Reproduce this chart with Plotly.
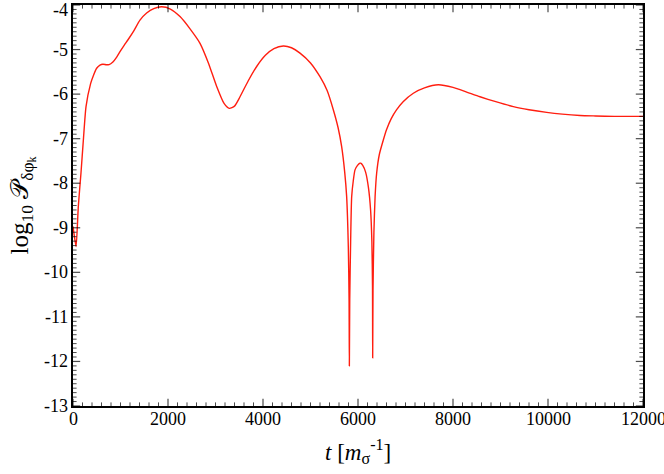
import plotly.graph_objects as go

# values
t = [0, 30, 65, 112, 168, 218, 274, 372, 430, 498, 568, 630, 700, 760, 840,
     920, 1000, 1080, 1158, 1280, 1410, 1550, 1700, 1867, 2050, 2253, 2460,
     2674, 2850, 3025, 3180, 3291, 3400, 3516, 3690, 3867, 4050, 4230, 4428,
     4600, 4779, 5000, 5200, 5350, 5480, 5580, 5656, 5720, 5761, 5796, 5812,
     5818, 5826, 5845, 5867, 5900, 5937, 5990, 6042, 6057, 6100, 6160, 6220,
     6265, 6292, 6305, 6309, 6316, 6335, 6360, 6393, 6450, 6533, 6600, 6700,
     6814, 6950, 7165, 7400, 7691, 8000, 8300, 8568, 8900, 9270, 9600, 9972,
     10300, 10674, 11000, 11400, 11700, 12000]
log_p = [-8.97, -9.2, -9.42, -8.52, -7.77, -7.03, -6.28, -5.76, -5.58, -5.42,
         -5.35, -5.33, -5.34, -5.34, -5.28, -5.17, -5.03, -4.9, -4.78, -4.58,
         -4.34, -4.18, -4.08, -4.04, -4.09, -4.26, -4.53, -4.86, -5.3, -5.83,
         -6.21, -6.32, -6.27, -6.06, -5.7, -5.38, -5.13, -4.98, -4.92, -4.96,
         -5.08, -5.3, -5.61, -5.92, -6.35, -6.75, -7.18, -7.75, -8.3, -9.42,
         -10.6, -12.1, -10.6, -9.3, -8.3, -7.95, -7.7, -7.6, -7.55, -7.55, -7.6,
         -7.75, -8.1, -8.6, -9.3, -10.3, -11.92, -10.4, -9.1, -8.3, -7.77, -7.35,
         -7.03, -6.8, -6.55, -6.35, -6.17, -5.98, -5.86, -5.79, -5.85, -5.96,
         -6.06, -6.17, -6.28, -6.35, -6.41, -6.45, -6.48, -6.49, -6.5, -6.5, -6.5]

x_ticks = [0, 2000, 4000, 6000, 8000, 10000, 12000]
y_ticks = [-13, -12, -11, -10, -9, -8, -7, -6, -5, -4]

# minor tick positions
x_minor = [v for v in range(0, 12001, 200) if v % 2000 != 0]
y_minor = [round(-13 + i / 10, 1) for i in range(91) if i % 10 != 0]

x_range = [0, 12000]
y_range = [-13, -4]

serif = 'Liberation Serif'
W, H = 664, 474
L, R, T, B = 73, 21, 5, 68
pw, ph = W - L - R, H - T - B
# one pixel in data units
px_x = (x_range[1] - x_range[0]) / pw
px_y = (y_range[1] - y_range[0]) / ph

# curve points (no marker) followed by tick marks drawn as line markers
xs, ys = list(t), list(log_p)
symbols = ['circle'] * len(t)
sizes = [0] * len(t)
widths = [0] * len(t)
colors = ['#ff1e10'] * len(t)


def add_tick(x, y, sym, ln):
    xs.extend([None, x])
    ys.extend([None, y])
    symbols.extend(['circle', sym])
    sizes.extend([0, ln])
    widths.extend([0, 1.2 if ln == 6 else 1])
    colors.extend(['#ff1e10', 'black'])


for vals, ln in ((x_ticks, 6), (x_minor, 3)):
    for v in vals:
        add_tick(v, y_range[0] + ln / 2 * px_y, 'line-ns', ln)
        add_tick(v, y_range[1] - ln / 2 * px_y, 'line-ns', ln)
for vals, ln in ((y_ticks, 6), (y_minor, 3)):
    for v in vals:
        add_tick(x_range[0] + ln / 2 * px_x, v, 'line-ew', ln)
        add_tick(x_range[1] - ln / 2 * px_x, v, 'line-ew', ln)

fig = go.Figure()
fig.add_trace(go.Scatter(x=xs, y=ys, mode='lines+markers', connectgaps=False,
                         line=dict(color='#ff1e10', width=1.4, shape='spline', smoothing=0.6),
                         marker=dict(symbol=symbols, size=sizes, color=colors,
                                     line=dict(width=widths, color=colors)),
                         showlegend=False, hoverinfo='skip'))
# invisible copy so the top/right frame axes get drawn
fig.add_trace(go.Scatter(x=t, y=log_p, mode='lines', xaxis='x2', yaxis='y2',
                         line=dict(width=0), opacity=0, showlegend=False, hoverinfo='skip'))

tick_font = dict(family=serif, size=18, color='black')
annotations = []
for v in x_ticks:
    annotations.append(dict(text=str(v), xref='x', x=v, yref='paper', y=0, xanchor='center',
                            yanchor='top', yshift=-1, showarrow=False, font=tick_font))
for v in y_ticks:
    annotations.append(dict(text=str(v), xref='paper', x=0, yref='y', y=v, xanchor='right',
                            yanchor='middle', xshift=-3, yshift=-5 if v == -4 else 0,
                            showarrow=False, font=tick_font))

annotations.append(dict(text='<i>t</i> [<i>m</i><sub>σ</sub><sup>-1</sup>]',
                        xref='paper', x=0.5, yref='paper', y=0, yanchor='middle', yshift=-45,
                        showarrow=False, font=dict(family=serif, size=23, color='black')))
annotations.append(dict(text='log<sub>10</sub> 𝒫<sub>δφ<sub>k</sub></sub>', textangle=-90,
                        xref='paper', x=0, xanchor='center', xshift=-51,
                        yref='paper', y=0.5, yanchor='middle',
                        showarrow=False, font=dict(family=serif, size=25, color='black')))

frame = dict(showgrid=False, zeroline=False, showline=True, linecolor='black', linewidth=1.5,
             ticks='', showticklabels=False, automargin=False)
fig.update_layout(
    template='none',
    width=W, height=H,
    plot_bgcolor='white', paper_bgcolor='white',
    font=dict(family=serif, size=18, color='black'),
    margin=dict(l=L, r=R, t=T, b=B, autoexpand=False),
    xaxis=dict(range=x_range, **frame),
    yaxis=dict(range=y_range, **frame),
    xaxis2=dict(range=x_range, overlaying='x', anchor='y', side='top', **frame),
    yaxis2=dict(range=y_range, overlaying='y', anchor='x', side='right', **frame),
    annotations=annotations,
)

fig.write_html("out.html", config={'displayModeBar': False},
               post_script="document.body.style.margin='0px';")
